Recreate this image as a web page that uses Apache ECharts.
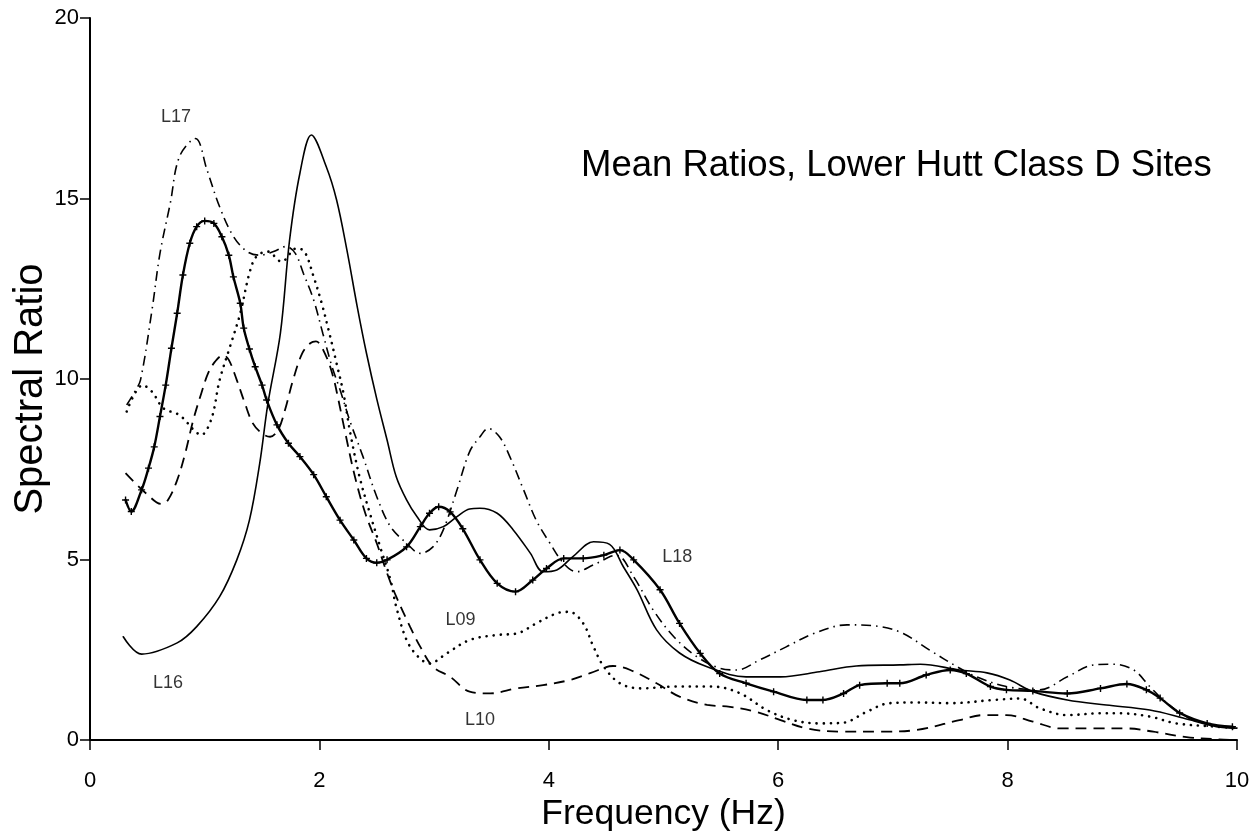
<!DOCTYPE html>
<html><head><meta charset="utf-8">
<script src="https://cdn.jsdelivr.net/npm/echarts@6/dist/echarts.min.js"></script>
<style>html,body{margin:0;padding:0;background:#fff}#c{width:1256px;height:836px}</style>
</head><body><div id="c"></div>
<script>
const titleText = 'Mean Ratios, Lower Hutt Class D Sites';
const xName = 'Frequency (Hz)';
const yName = 'Spectral Ratio';
const xMin = 0, xMax = 10, xStep = 2;
const yMin = 0, yMax = 20, yStep = 5;

// L16 - solid
const L16 = [[0.29,2.86],[0.45,2.38],[0.76,2.69],[0.93,3.14],[1.13,3.97],[1.28,4.99],[1.39,6.09],[1.48,7.67],[1.55,9.3],[1.66,11.27],[1.74,13.85],[1.83,15.7],[1.93,16.76],[2.06,15.88],[2.15,14.96],[2.24,13.57],[2.33,12.0],[2.41,10.72],[2.50,9.45],[2.59,8.31],[2.67,7.29],[2.76,6.65],[2.85,6.19],[2.96,5.82],[3.08,5.91],[3.20,6.19],[3.31,6.40],[3.40,6.42],[3.55,6.28],[3.69,5.82],[3.84,5.17],[3.95,4.66],[4.07,4.71],[4.21,5.08],[4.39,5.49],[4.53,5.42],[4.65,4.80],[4.77,4.16],[4.94,3.05],[5.14,2.41],[5.38,2.03],[5.72,1.75],[6.02,1.75],[6.36,1.89],[6.68,2.05],[7.06,2.08],[7.24,2.1],[7.58,1.94],[7.82,1.86],[8.02,1.66],[8.22,1.34],[8.52,1.11],[8.86,0.97],[9.24,0.83],[9.53,0.61],[9.82,0.37],[10.0,0.33]];
// L18 - solid with + markers
const L18 = [[0.31,6.65],[0.36,6.33],[0.45,6.93],[0.51,7.53],[0.56,8.12],[0.61,8.96],[0.66,9.83],[0.71,10.85],[0.76,11.82],[0.81,12.88],[0.87,13.76],[0.93,14.22],[1.00,14.38],[1.08,14.31],[1.15,13.94],[1.21,13.43],[1.25,12.83],[1.31,12.1],[1.34,11.41],[1.39,10.83],[1.44,10.34],[1.50,9.83],[1.54,9.42],[1.63,8.73],[1.73,8.22],[1.83,7.85],[1.95,7.35],[2.06,6.74],[2.18,6.09],[2.30,5.54],[2.41,5.03],[2.50,4.91],[2.59,4.99],[2.76,5.35],[2.88,5.91],[2.96,6.28],[3.04,6.46],[3.14,6.32],[3.25,5.85],[3.40,4.99],[3.55,4.34],[3.71,4.11],[3.86,4.43],[3.98,4.75],[4.13,5.03],[4.30,5.03],[4.48,5.12],[4.62,5.26],[4.74,4.99],[4.97,4.16],[5.14,3.23],[5.32,2.40],[5.49,1.84],[5.72,1.57],[5.96,1.34],[6.25,1.11],[6.39,1.11],[6.57,1.29],[6.71,1.52],[6.95,1.57],[7.06,1.57],[7.29,1.80],[7.50,1.94],[7.64,1.84],[7.85,1.48],[7.99,1.39],[8.22,1.36],[8.52,1.29],[8.81,1.43],[9.04,1.55],[9.21,1.39],[9.33,1.16],[9.50,0.75],[9.74,0.46],[9.96,0.37]];
// L17 - dash-dot
const L17 = [[0.32,9.28],[0.39,9.65],[0.44,9.97],[0.54,11.9],[0.61,13.48],[0.70,14.87],[0.78,16.16],[0.92,16.66],[1.02,15.79],[1.13,14.77],[1.25,13.95],[1.37,13.53],[1.48,13.43],[1.60,13.53],[1.71,13.67],[1.79,13.48],[1.86,12.93],[1.95,12.19],[2.03,11.26],[2.11,10.34],[2.18,9.70],[2.27,8.8],[2.38,7.85],[2.50,6.74],[2.62,5.91],[2.76,5.45],[2.88,5.17],[2.99,5.35],[3.08,5.82],[3.20,6.93],[3.31,7.99],[3.40,8.40],[3.47,8.63],[3.57,8.40],[3.66,7.85],[3.78,6.93],[3.89,6.09],[4.01,5.45],[4.13,4.89],[4.24,4.66],[4.39,4.85],[4.59,5.12],[4.74,4.52],[4.91,3.60],[5.09,2.86],[5.29,2.31],[5.49,1.99],[5.64,1.94],[5.84,2.22],[6.07,2.58],[6.31,2.95],[6.60,3.19],[6.89,3.14],[7.09,2.95],[7.32,2.49],[7.56,2.03],[7.73,1.75],[7.99,1.48],[8.28,1.39],[8.52,1.75],[8.75,2.08],[8.92,2.1],[9.10,1.94],[9.24,1.48],[9.39,1.02],[9.62,0.55],[9.97,0.33]];
// L09 - dotted
const L09 = [[0.32,9.1],[0.46,9.83],[0.54,9.65],[0.64,9.19],[0.78,9.0],[0.92,8.54],[0.97,8.45],[1.06,8.91],[1.13,9.97],[1.22,10.89],[1.31,11.82],[1.39,12.93],[1.45,13.39],[1.55,13.53],[1.67,13.25],[1.80,13.62],[1.87,13.53],[1.95,12.83],[2.02,12.10],[2.08,11.36],[2.15,10.43],[2.21,9.60],[2.27,8.49],[2.35,7.29],[2.44,6.28],[2.53,5.35],[2.62,4.43],[2.67,3.69],[2.76,2.77],[2.86,2.31],[2.96,2.12],[3.11,2.40],[3.31,2.77],[3.55,2.91],[3.72,2.95],[3.89,3.23],[4.07,3.51],[4.18,3.55],[4.30,3.23],[4.39,2.58],[4.48,2.03],[4.62,1.57],[4.80,1.43],[5.09,1.48],[5.43,1.48],[5.67,1.29],[5.90,0.83],[6.13,0.55],[6.36,0.46],[6.57,0.48],[6.77,0.78],[6.97,1.02],[7.21,1.04],[7.50,1.02],[7.88,1.11],[8.11,1.15],[8.28,0.88],[8.52,0.69],[8.81,0.74],[8.98,0.74],[9.24,0.65],[9.47,0.46],[9.82,0.37],[10.0,0.33]];
// L10 - dashed
const L10 = [[0.31,7.39],[0.38,7.16],[0.49,6.83],[0.62,6.54],[0.68,6.65],[0.76,7.20],[0.83,7.94],[0.90,8.86],[0.97,9.60],[1.03,10.16],[1.09,10.48],[1.16,10.66],[1.21,10.53],[1.28,9.97],[1.35,9.33],[1.42,8.77],[1.50,8.49],[1.57,8.40],[1.64,8.59],[1.70,9.14],[1.77,9.97],[1.85,10.71],[1.92,10.99],[1.97,11.04],[2.06,10.62],[2.12,10.06],[2.16,9.51],[2.22,8.59],[2.31,7.29],[2.40,6.28],[2.50,5.45],[2.59,4.62],[2.67,3.97],[2.79,3.14],[2.88,2.58],[2.99,2.03],[3.14,1.75],[3.31,1.34],[3.49,1.29],[3.72,1.43],[3.95,1.52],[4.18,1.66],[4.36,1.85],[4.56,2.05],[4.71,1.94],[4.94,1.57],[5.14,1.20],[5.38,0.97],[5.58,0.92],[5.81,0.78],[6.02,0.55],[6.25,0.32],[6.54,0.23],[6.89,0.23],[7.21,0.28],[7.58,0.55],[7.79,0.69],[7.99,0.69],[8.22,0.51],[8.46,0.32],[8.75,0.32],[9.04,0.32],[9.27,0.23],[9.56,0.08],[9.82,0.02],[10.0,0.0]];

// curve name labels placed in data coordinates
const labelNames = ['L17','L16','L09','L10','L18'];
const labelX = [0.75, 0.68, 3.23, 3.40, 5.12];
const labelY = [17.26, 1.58, 3.32, 0.55, 5.07];

const FONT = "'Liberation Sans', Arial, Helvetica, sans-serif";
const chart = echarts.init(document.getElementById('c'), null, {renderer:'canvas'});
const plus = 'path://M4,0h2v4h4v2h-4v4h-2v-4h-4v-2h4z';
function lineSeries(name, data, width, dash, cap, extra) {
  return Object.assign({
    name, type:'line', data, smooth:0.35, symbol:'none', silent:true, animation:false,
    lineStyle:{color:'#000', width, type:dash, cap:cap}, z:3
  }, extra||{});
}
chart.setOption({
  backgroundColor:'#fff',
  animation:false,
  title:{text:titleText, left:576, top:142, textStyle:{fontFamily:FONT, fontWeight:'normal', fontSize:36.5, color:'#000'}},
  grid:{left:90, right:19, top:18, bottom:96, containLabel:false, outerBoundsMode:'none'},
  xAxis:{type:'value', min:xMin, max:xMax, interval:xStep,
    name:xName, nameLocation:'middle', nameGap:56, nameMoveOverlap:false,
    nameTextStyle:{fontFamily:FONT, fontSize:35.5, color:'#000'},
    axisLine:{lineStyle:{color:'#000', width:2}},
    axisTick:{show:true, inside:false, length:10, lineStyle:{color:'#000', width:1.5}},
    axisLabel:{margin:30, fontFamily:FONT, fontSize:22, color:'#000'},
    splitLine:{show:false}},
  yAxis:{type:'value', min:yMin, max:yMax, interval:yStep,
    name:yName, nameLocation:'middle', nameGap:39, nameMoveOverlap:false,
    nameTextStyle:{fontFamily:FONT, fontSize:40, color:'#000', padding:[0,20,0,0]},
    axisLine:{show:true, lineStyle:{color:'#000', width:2}},
    axisTick:{show:true, inside:false, length:10, lineStyle:{color:'#000', width:1.5}},
    axisLabel:{margin:11, fontFamily:FONT, fontSize:22, color:'#000'},
    splitLine:{show:false}},
  series:[
    lineSeries('L16', L16, 1.6, 'solid', 'round'),
    lineSeries('L10', L10, 1.8, [11,7], 'butt'),
    lineSeries('L09', L09, 2.6, [0.1,7], 'round'),
    lineSeries('L17', L17, 1.6, [10,5,1.5,5], 'butt'),
    lineSeries('L18', L18, 2.4, 'solid', 'round', {symbol:plus, symbolSize:7, showSymbol:true, showAllSymbol:true, itemStyle:{color:'#000'}}),
    {name:'labels', type:'scatter', silent:true, animation:false, symbolSize:0,
      data: labelNames.map((n,i)=>({value:[labelX[i], labelY[i]], name:n})),
      label:{show:true, position:'inside', formatter:p=>p.name, fontFamily:FONT, fontSize:18, color:'#000'}}
  ]
});
</script></body></html>
